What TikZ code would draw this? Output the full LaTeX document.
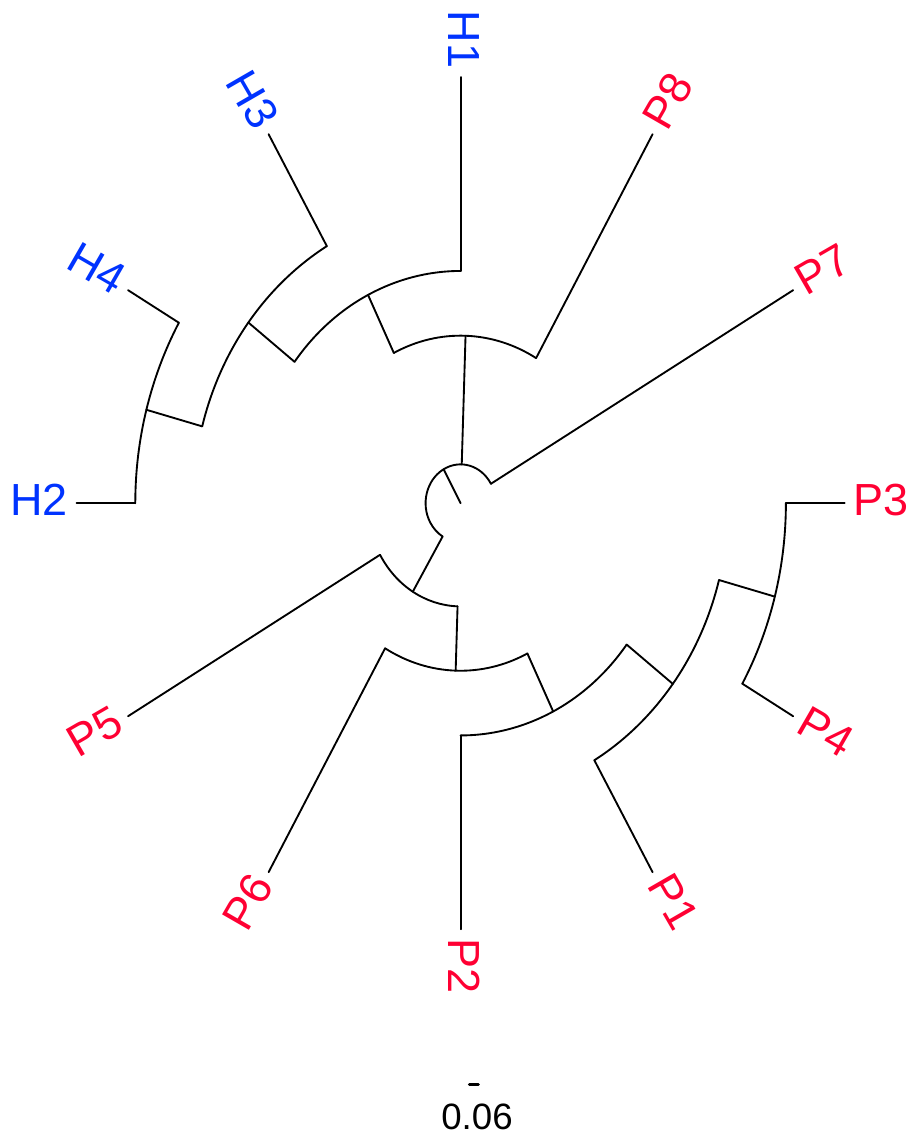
\documentclass[tikz,border=0pt]{standalone}
\usepackage{fontspec}
\setmainfont{Liberation Sans}
\definecolor{hblue}{RGB}{0,51,255}
\definecolor{pred}{RGB}{255,0,51}
\tikzset{
  branch/.style={line width=1.4pt, line cap=round, line join=round},
  lab/.style={font=\fontsize{33.75}{40}\selectfont, inner xsep=6.5pt, inner ysep=0pt, text depth=5.2pt},
  hlab/.style={lab, text=hblue},
  plab/.style={lab, text=pred},
}

\begin{document}
\begin{tikzpicture}[x=0.75pt, y=0.75pt]
\useasboundingbox (-460.6,-631.8) rectangle (447.4,503.2);
\begin{scope}[yscale=1.1094]
  % inner nodes
  \coordinate (root) at (0,0);
  \coordinate (nR) at (119.0625:35);
  \coordinate (nA) at (88.125:151);
  \coordinate (nC) at (116.25:209.3);
  \coordinate (nD) at (142.5:267.5);
  \coordinate (nE) at (165:325.3);
  \coordinate (nB) at (239.0625:93);
  \coordinate (nF) at (268.125:151);
  \coordinate (nG) at (296.25:209.3);
  \coordinate (nH) at (322.5:267.5);
  \coordinate (nI) at (345:325.3);
  % tips
  \coordinate (tH1) at (90:384);
  \coordinate (tH3) at (120:384);
  \coordinate (tH4) at (150:384);
  \coordinate (tH2) at (180:384);
  \coordinate (tP5) at (210:384);
  \coordinate (tP6) at (240:384);
  \coordinate (tP2) at (270:384);
  \coordinate (tP1) at (300:384);
  \coordinate (tP4) at (330:384);
  \coordinate (tP3) at (0:384);
  \coordinate (tP7) at (30:384);
  \coordinate (tP8) at (60:384);
  % where the branches leave the parent arcs
  \coordinate (eA) at (88.125:35);
  \coordinate (eP7) at (30:35);
  \coordinate (eB) at (239.0625:35);
  \coordinate (eP8) at (60:151);
  \coordinate (eC) at (116.25:151);
  \coordinate (eH1) at (90:209.3);
  \coordinate (eD) at (142.5:209.3);
  \coordinate (eH3) at (120:267.5);
  \coordinate (eE) at (165:267.5);
  \coordinate (eH4) at (150:325.3);
  \coordinate (eH2) at (180:325.3);
  \coordinate (eP5) at (210:93);
  \coordinate (eF) at (268.125:93);
  \coordinate (eP6) at (240:151);
  \coordinate (eG) at (296.25:151);
  \coordinate (eP2) at (270:209.3);
  \coordinate (eH) at (322.5:209.3);
  \coordinate (eP1) at (300:267.5);
  \coordinate (eI) at (345:267.5);
  \coordinate (eP4) at (330:325.3);
  \coordinate (eP3) at (360:325.3);

  % arcs
  \draw[branch] (eP7) arc[start angle=30, end angle=239.0625, radius=35];
  \draw[branch] (eP8) arc[start angle=60, end angle=116.25, radius=151];
  \draw[branch] (eH1) arc[start angle=90, end angle=142.5, radius=209.3];
  \draw[branch] (eH3) arc[start angle=120, end angle=165, radius=267.5];
  \draw[branch] (eH4) arc[start angle=150, end angle=180, radius=325.3];
  \draw[branch] (eP5) arc[start angle=210, end angle=268.125, radius=93];
  \draw[branch] (eP6) arc[start angle=240, end angle=296.25, radius=151];
  \draw[branch] (eP2) arc[start angle=270, end angle=322.5, radius=209.3];
  \draw[branch] (eP1) arc[start angle=300, end angle=345, radius=267.5];
  \draw[branch] (eP4) arc[start angle=330, end angle=360, radius=325.3];

  % radial branches
  \draw[branch] (root) -- (nR);
  \draw[branch] (eA) -- (nA);
  \draw[branch] (eP7) -- (tP7);
  \draw[branch] (eB) -- (nB);
  \draw[branch] (eP8) -- (tP8);
  \draw[branch] (eC) -- (nC);
  \draw[branch] (eH1) -- (tH1);
  \draw[branch] (eD) -- (nD);
  \draw[branch] (eH3) -- (tH3);
  \draw[branch] (eE) -- (nE);
  \draw[branch] (eH4) -- (tH4);
  \draw[branch] (eH2) -- (tH2);
  \draw[branch] (eP5) -- (tP5);
  \draw[branch] (eF) -- (nF);
  \draw[branch] (eP6) -- (tP6);
  \draw[branch] (eG) -- (nG);
  \draw[branch] (eP2) -- (tP2);
  \draw[branch] (eH) -- (nH);
  \draw[branch] (eP1) -- (tP1);
  \draw[branch] (eI) -- (nI);
  \draw[branch] (eP4) -- (tP4);
  \draw[branch] (eP3) -- (tP3);

  % tip labels
  \node[hlab, anchor=east, rotate=-90] (H1) at (tH1) {H1};
  \node[hlab, anchor=east, rotate=-60] (H3) at (tH3) {H3};
  \node[hlab, anchor=east, rotate=-30] (H4) at (tH4) {H4};
  \node[hlab, anchor=east] (H2) at (tH2) {H2};
  \node[plab, anchor=east, rotate=30] (P5) at (tP5) {P5};
  \node[plab, anchor=east, rotate=60] (P6) at (tP6) {P6};
  \node[plab, anchor=west, rotate=-90] (P2) at (tP2) {P2};
  \node[plab, anchor=west, rotate=-60] (P1) at (tP1) {P1};
  \node[plab, anchor=west, rotate=-30] (P4) at (tP4) {P4};
  \node[plab, anchor=west] (P3) at (tP3) {P3};
  \node[plab, anchor=west, rotate=30] (P7) at (tP7) {P7};
  \node[plab, anchor=west, rotate=60] (P8) at (tP8) {P8};
\end{scope}

% scale bar
\coordinate (sbL) at (8.7,-581.1);
\coordinate (sbR) at (17.7,-581.1);
\draw[line width=2.2pt, line cap=round] (sbL) -- (sbR);
\node[font=\fontsize{27.5}{32}\selectfont, inner sep=0pt] (sblab) at (16.4,-613.3) {0.06};
\end{tikzpicture}
\end{document}
